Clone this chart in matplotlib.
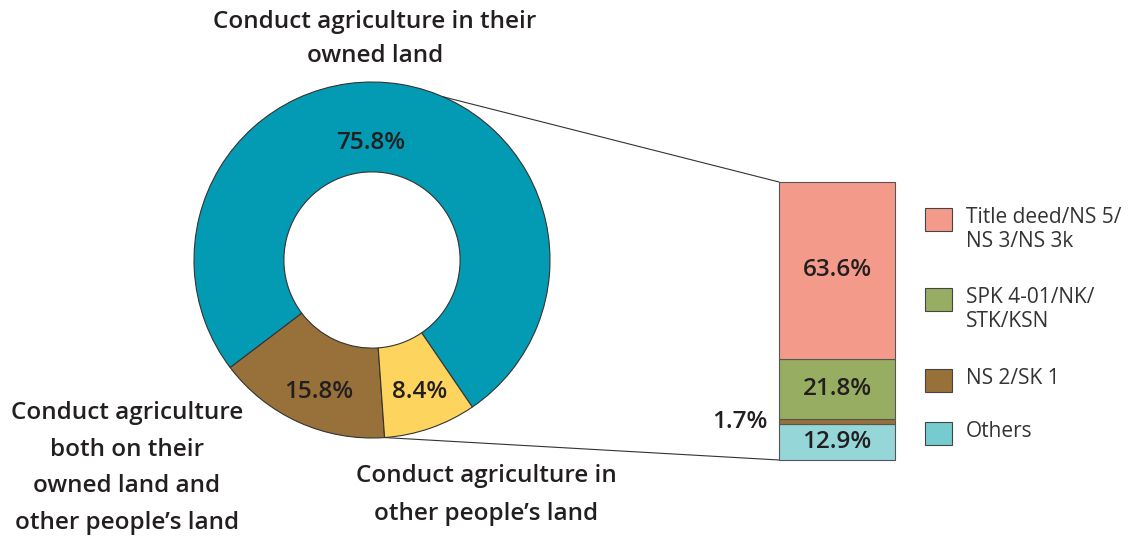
import numpy as np
import matplotlib.pyplot as plt
from matplotlib.patches import ConnectionPatch, Rectangle

plt.rcParams['font.family'] = ['Open Sans', 'DejaVu Sans']

# donut data (counter-clockwise from the teal slice)
pie_labels = ["Conduct agriculture in their\nowned land",
              "Conduct agriculture\nboth on their\nowned land and\nother people\u2019s land",
              "Conduct agriculture in\nother people\u2019s land"]
pie_values = [75.8, 15.8, 8.4]
pie_colors = ["#039bb4", "#98713a", "#fdd55e"]

# stacked bar data (bottom to top)
bar_labels = ["Others", "NS 2/SK 1", "SPK 4-01/NK/\nSTK/KSN", "Title deed/NS 5/\nNS 3/NS 3k"]
bar_values = [12.9, 1.7, 21.8, 63.6]
bar_colors = ["#95d6d9", "#98713a", "#97ad62", "#f49a8a"]
legend_colors = ["#75cbcd", "#98713a", "#97ad62", "#f49a8a"]

W, H = 1135, 538
fig = plt.figure(figsize=(W / 100, H / 100), dpi=100)
txt = "#231f20"
fs = 17.5

# donut
cx, cy, r = 372, 260, 178
ax1 = fig.add_axes([(cx - r) / W, (H - cy - r) / H, 2 * r / W, 2 * r / H])
start = -55.7
ax1.pie(pie_values, colors=pie_colors, startangle=start, counterclock=True, radius=1,
        wedgeprops=dict(width=0.505, edgecolor="#333333", linewidth=0.8))
ax1.set_xlim(-1, 1)
ax1.set_ylim(-1, 1)
ax1.set_aspect("equal")
ax1.axis("off")

pct_pos = [(-0.01, 0.655), (-0.30, -0.74), (0.27, -0.74)]
for v, (x, y) in zip(pie_values, pct_pos):
    ax1.text(x, y, f"{v}%", ha="center", va="center", fontsize=fs, fontweight="semibold", color=txt)

# category labels
fig.text(375 / W, 1 - 39 / H, pie_labels[0], ha="center", va="center", fontsize=fs,
         fontweight="semibold", color=txt, linespacing=1.53)
fig.text(127 / W, 1 - 468 / H, pie_labels[1], ha="center", va="center", fontsize=fs,
         fontweight="semibold", color=txt, linespacing=1.7)
fig.text(486 / W, 1 - 495 / H, pie_labels[2], ha="center", va="center", fontsize=fs,
         fontweight="semibold", color=txt, linespacing=1.76)

# stacked bar
bx0, bx1, by0, by1 = 779, 895, 182, 460
ax2 = fig.add_axes([bx0 / W, (H - by1) / H, (bx1 - bx0) / W, (by1 - by0) / H])
bottom = 0
for v, c in zip(bar_values, bar_colors):
    ax2.bar(0, v, width=1, bottom=bottom, color=c, edgecolor="#555555", linewidth=0.8, clip_on=False)
    if v > 5:
        ax2.text(0, bottom + v / 2, f"{v}%", ha="center", va="center", fontsize=fs,
                 fontweight="semibold", color=txt)
    else:
        ax2.text(-0.6, bottom + v / 2, f"{v}%", ha="right", va="center", fontsize=fs,
                 fontweight="semibold", color=txt)
    bottom += v
ax2.set_xlim(-0.5, 0.5)
ax2.set_ylim(0, sum(bar_values))
ax2.axis("off")

# connector lines from donut to bar
for ang, yb in [(66.5, sum(bar_values)), (start + 360 * (pie_values[0] + pie_values[1]) / 100, 0)]:
    a = np.deg2rad(ang)
    con = ConnectionPatch(xyA=(np.cos(a), np.sin(a)), coordsA=ax1.transData,
                          xyB=(-0.5, yb), coordsB=ax2.transData, color="#333333", linewidth=0.8)
    fig.add_artist(con)

# legend, drawn by hand so the squares line up with the first text line
leg_tops = [208, 288, 369, 422]
for lab, c, top in zip(bar_labels[::-1], legend_colors[::-1], leg_tops):
    fig.add_artist(Rectangle((925 / W, 1 - (top + 23) / H), 27 / W, 23 / H, transform=fig.transFigure,
                             facecolor=c, edgecolor="#444444", linewidth=0.8))
    fig.text(966 / W, 1 - (top - 1) / H, lab, ha="left", va="top", fontsize=15,
             color="#333333", linespacing=1.2)

fig.savefig("out.png", dpi=100)
